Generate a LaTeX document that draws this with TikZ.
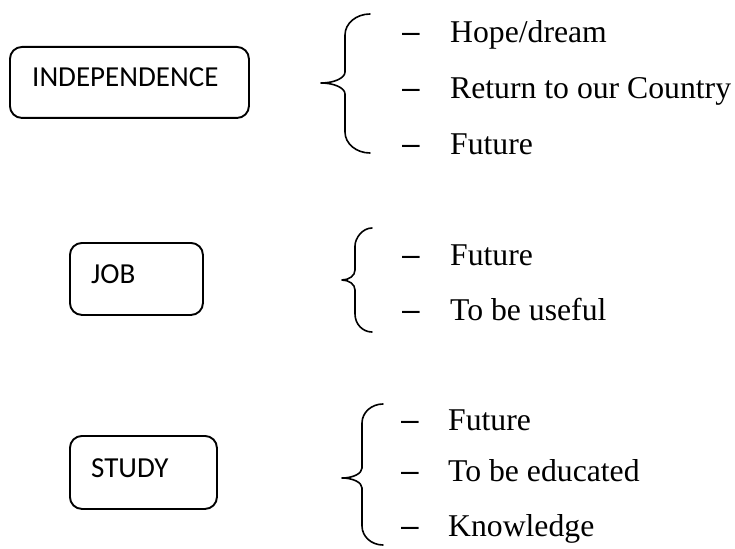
\documentclass[tikz,border=0pt]{standalone}
\usepackage{fontspec}
\setmainfont{Liberation Serif}
\newfontfamily\boxfont{Carlito}
\newfontfamily\dashfont{Liberation Sans}
\begin{document}
\begin{tikzpicture}[x=1pt,y=-1pt,
  topic/.style={draw=black, line width=1.9pt, rounded corners=12pt, rectangle,
    inner sep=0pt, anchor=north west},
  topiclabel/.style={inner sep=0pt, anchor=base west,
    font=\boxfont\fontsize{29}{35}\selectfont},
  bracestyle/.style={draw=black, line width=1.6pt, line cap=round, line join=round},
  dashmark/.style={inner sep=0pt, anchor=base west,
    font=\dashfont\fontsize{31.7}{38}\selectfont},
  item/.style={inner sep=0pt, anchor=base west,
    font=\fontsize{31.7}{38}\selectfont}]
\useasboundingbox (0,0) rectangle (735,548);

% topic boxes
\node[topic, minimum width=239pt, minimum height=71pt] (indep) at (9,46) {};
\node[topiclabel] (indeplbl) at (32,87) {INDEPENDENCE};

\node[topic, minimum width=133pt, minimum height=72pt] (job) at (69,242) {};
\node[topiclabel] (joblbl) at (91,283) {JOB};

\node[topic, minimum width=147pt, minimum height=73pt] (study) at (69,435) {};
\node[topiclabel] (studylbl) at (91,477) {STUDY};

% braces
\draw[bracestyle] (370,14) .. controls (356.2,14) and (345,23.4) .. (345,35)
  -- (345,72) .. controls (345,78) and (334.2,83) .. (321,83)
  .. controls (334.2,83) and (345,88) .. (345,94)
  -- (345,132) .. controls (345,143.6) and (356.2,153) .. (370,153);

\draw[bracestyle] (372,228) .. controls (362.6,228) and (355,238) .. (355,246)
  -- (355,270) .. controls (355,275.5) and (349.2,280) .. (342,280)
  .. controls (349.2,280) and (355,284.5) .. (355,290)
  -- (355,314) .. controls (355,324) and (362.6,332) .. (372,332);

\draw[bracestyle] (383,404) .. controls (371.4,404) and (362,412.5) .. (362,423)
  -- (362,468) .. controls (362,473.5) and (353,478) .. (342,478)
  .. controls (353,478) and (362,482.5) .. (362,488)
  -- (362,526) .. controls (362,536.5) and (371.4,545) .. (383,545);

% list items
\node[dashmark] (d11) at (402,43) {–};
\node[item] (i11) at (450,43) {Hope/dream};
\node[dashmark] (d12) at (402,99) {–};
\node[item] (i12) at (450,99) {Return to our Country};
\node[dashmark] (d13) at (402,155) {–};
\node[item] (i13) at (450,155) {Future};

\node[dashmark] (d21) at (402,265) {–};
\node[item] (i21) at (450,265) {Future};
\node[dashmark] (d22) at (402,320) {–};
\node[item] (i22) at (450,320) {To be useful};

\node[dashmark] (d31) at (401,430) {–};
\node[item] (i31) at (448,430) {Future};
\node[dashmark] (d32) at (401,481) {–};
\node[item] (i32) at (448,481) {To be educated};
\node[dashmark] (d33) at (401,536) {–};
\node[item] (i33) at (448,536) {Knowledge};
\end{tikzpicture}
\end{document}
